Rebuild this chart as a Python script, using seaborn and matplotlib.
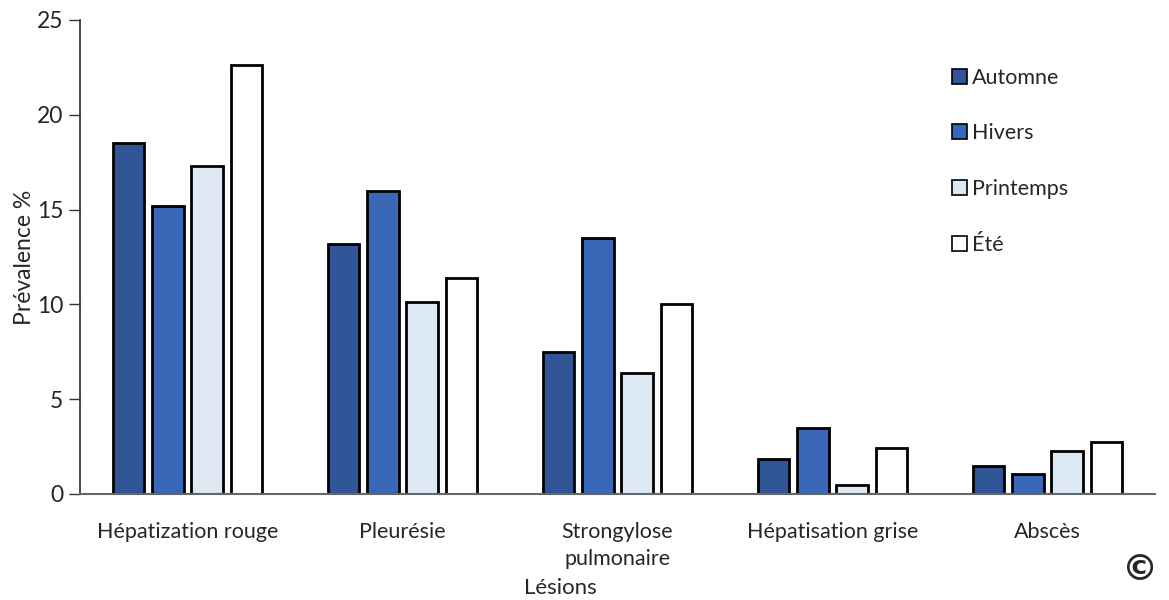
import matplotlib
matplotlib.use("Agg")
import matplotlib.pyplot as plt
import seaborn as sns
import pandas as pd

lesions = ["Hépatization rouge", "Pleurésie", "Strongylose\npulmonaire",
           "Hépatisation grise", "Abscès"]
seasons = ["Automne", "Hivers", "Printemps", "Été"]
automne = [18.5, 13.2, 7.5, 1.85, 1.5]
hivers = [15.2, 16.0, 13.5, 3.5, 1.05]
printemps = [17.3, 10.1, 6.4, 0.5, 2.25]
ete = [22.6, 11.4, 10.0, 2.4, 2.75]
yticks = [0, 5, 10, 15, 20, 25]
colors = ["#2F5597", "#3A67B8", "#DCE8F4", "#FFFFFF"]

rows = []
for season, vals in zip(seasons, [automne, hivers, printemps, ete]):
    for lesion, v in zip(lesions, vals):
        rows.append({"Lésions": lesion, "Saison": season, "Prévalence": v})
df = pd.DataFrame(rows)

sns.set_theme(style="white")
plt.rcParams["font.family"] = ["Lato", "DejaVu Sans"]

fig = plt.figure(figsize=(11.69, 6.0), dpi=100)
ax = fig.add_axes([0.0684, 0.1767, 0.9196, 0.79])

sns.barplot(data=df, x="Lésions", y="Prévalence", hue="Saison",
            order=lesions, hue_order=seasons, palette=colors, saturation=1,
            width=0.73, gap=0.2, edgecolor="black", linewidth=2,
            errorbar=None, ax=ax)

ax.set_xlim(-0.5, 4.5)
ax.set_ylim(0, 25)
ax.set_yticks(yticks)
ax.tick_params(axis="y", which="both", left=True, length=8, width=1,
               color="#333333", labelsize=16.5, pad=4)
ax.tick_params(axis="x", bottom=False, labelsize=15.5, pad=14)
for lab in ax.get_xticklabels():
    lab.set_multialignment("center")
    lab.set_linespacing(1.45)

for s in ["top", "right"]:
    ax.spines[s].set_visible(False)
ax.spines["left"].set_color("#333333")
ax.spines["bottom"].set_color("#666666")
ax.spines["bottom"].set_linewidth(1.5)

ax.set_ylabel("Prévalence %", fontsize=16.5, labelpad=1)
ax.set_xlabel("Lésions", fontsize=16, va="center")
ax.xaxis.set_label_coords(0.4465, -0.198)

leg = ax.legend(loc="upper left", bbox_to_anchor=(0.801, 0.922), frameon=False,
                fontsize=15.5, handlelength=0.7, handleheight=0.7,
                handletextpad=0.25, labelspacing=1.66, borderpad=0)
for h in leg.legend_handles:
    h.set_linewidth(1.2)

fig.text(0.975, 0.05, "©", fontsize=26, ha="center", va="center",
         fontweight="bold", family="DejaVu Sans")

fig.savefig("out.png", dpi=100, facecolor="white")
